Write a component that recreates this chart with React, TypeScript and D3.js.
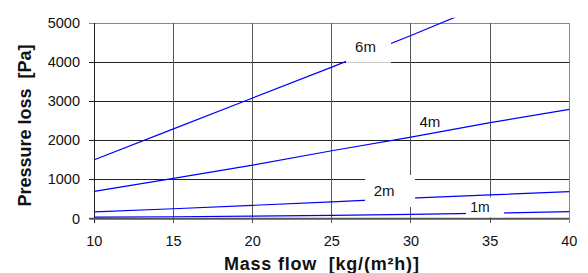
import React from "react";
import * as d3 from "d3";

const massFlow = [10, 15, 20, 25, 30, 35, 40];
const loss1m = [30, 40, 55, 75, 100, 130, 170];
const loss2m = [165, 245, 333, 420, 515, 600, 685];
const loss4m = [690, 1020, 1360, 1730, 2080, 2450, 2790];
const loss6m = [1500, 2290, 3080, 3870, 4680, 5520];

const xTicks = [10, 15, 20, 25, 30, 35, 40];
const yTicks = [0, 1000, 2000, 3000, 4000, 5000];

const seriesNames = ["1m", "2m", "4m", "6m"];
const seriesValues = [loss1m, loss2m, loss4m, loss6m];

// label anchors in data units
const labelX = [34.68, 28.68, 31.2, 27.32];
const labelY = [282, 699, 2465, 4392];

const W = 588;
const H = 273;
const plot = { left: 94.3, right: 569.3, top: 23, bottom: 218.3 };
const FONT = "'Liberation Sans', Arial, sans-serif";

export default function App() {
  const x = d3.scaleLinear().domain([10, 40]).range([plot.left, plot.right]);
  const y = d3.scaleLinear().domain([0, 5000]).range([plot.bottom, plot.top]);
  const line = d3
    .line<[number, number]>()
    .x((d) => x(d[0]))
    .y((d) => y(d[1]));

  const boxes = [
    { w: 38, h: 20, dx: -5, fs: 14, box: true },
    { w: 50, h: 32, dx: -6, fs: 15, box: true },
    { w: 0, h: 0, dx: 0, fs: 15, box: false },
    { w: 45, h: 32, dx: -3, fs: 15, box: true },
  ];

  return (
    <svg
      width={W}
      height={H}
      style={{ position: "absolute", left: 0, top: 0, background: "#fff" }}
      fontFamily={FONT}
    >
      <defs>
        <clipPath id="chartClip">
          <rect x={0} y={17.7} width={W} height={H} />
        </clipPath>
      </defs>
      {/* horizontal gridlines */}
      {yTicks.map((t) => (
        <line
          key={"h" + t}
          x1={plot.left - 5}
          x2={plot.right}
          y1={y(t)}
          y2={y(t)}
          stroke={t === 5000 ? "#888" : "#222"}
          strokeWidth={1}
          shapeRendering="crispEdges"
        />
      ))}
      {/* vertical gridlines */}
      {xTicks.map((t) => (
        <line
          key={"v" + t}
          x1={x(t)}
          x2={x(t)}
          y1={plot.top}
          y2={plot.bottom + 5}
          stroke={t === 40 ? "#888" : t === 10 ? "#222" : "#555"}
          strokeWidth={1}
          shapeRendering="crispEdges"
        />
      ))}
      {/* x axis */}
      <line
        x1={plot.left - 5}
        x2={plot.right}
        y1={plot.bottom + 0.5}
        y2={plot.bottom + 0.5}
        stroke="#555"
        strokeWidth={2}
      />
      {/* series */}
      <g clipPath="url(#chartClip)">
        {seriesValues.map((vals, i) => (
          <path
            key={seriesNames[i]}
            d={line(vals.map((v, j) => [massFlow[j], v] as [number, number])) || ""}
            fill="none"
            stroke="#0000ff"
            strokeWidth={1.2}
          />
        ))}
      </g>
      {/* labels */}
      {seriesNames.map((n, i) => {
        const cx = x(labelX[i]);
        const cy = y(labelY[i]);
        const b = boxes[i];
        return (
          <g key={"l" + n}>
            {b.box && (
              <rect x={cx - b.w / 2} y={cy - b.h / 2} width={b.w} height={b.h} fill="#fff" />
            )}
            <text
              x={cx + b.dx}
              y={cy}
              dy="0.36em"
              textAnchor="middle"
              fontSize={b.fs}
              fill="#111"
            >
              {n}
            </text>
          </g>
        );
      })}
      {/* y tick labels */}
      {yTicks.map((t) => (
        <text
          key={"yl" + t}
          x={80}
          y={y(t)}
          dy="0.36em"
          textAnchor="end"
          fontSize={14.5}
          fill="#111"
        >
          {t}
        </text>
      ))}
      {/* x tick labels */}
      {xTicks.map((t) => (
        <text
          key={"xl" + t}
          x={x(t)}
          y={246}
          textAnchor="middle"
          fontSize={14.5}
          fill="#111"
        >
          {t}
        </text>
      ))}
      {/* axis titles */}
      <text
        x={(plot.left + plot.right) / 2 - 10}
        y={270}
        textAnchor="middle"
        fontSize={18}
        fontWeight="bold"
        letterSpacing={0.8}
        fill="#111"
        style={{ whiteSpace: "pre" }}
      >
        {"Mass flow  [kg/(m\u00b2h)]"}
      </text>
      <text
        transform={`translate(31, 125.5) rotate(-90)`}
        textAnchor="middle"
        fontSize={18}
        fontWeight="bold"
        fill="#111"
        style={{ whiteSpace: "pre" }}
      >
        {"Pressure loss  [Pa]"}
      </text>
    </svg>
  );
}
